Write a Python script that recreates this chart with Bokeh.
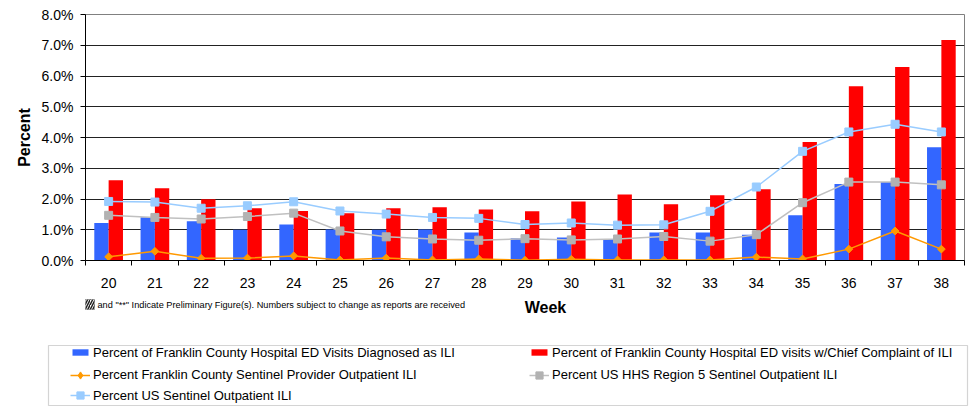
import math
from bokeh.plotting import figure
from bokeh.layouts import column
from bokeh.models import (ColumnDataSource, FixedTicker, PrintfTickFormatter, Legend, LegendItem,
                          Label, BoxAnnotation, Range1d)
from bokeh.transform import dodge
from bokeh.embed import file_html
from bokeh.resources import INLINE

weeks = [20, 21, 22, 23, 24, 25, 26, 27, 28, 29, 30, 31, 32, 33, 34, 35, 36, 37, 38]
ed_diagnosed = [1.22, 1.41, 1.28, 1.00, 1.17, 1.01, 1.00, 1.01, 0.91, 0.72, 0.75, 0.70, 0.91, 0.91, 0.84, 1.47, 2.49, 2.55, 3.68]
ed_complaint = [2.61, 2.35, 1.99, 1.70, 1.61, 1.54, 1.70, 1.73, 1.66, 1.60, 1.92, 2.15, 1.83, 2.12, 2.32, 3.85, 5.67, 6.29, 7.17]
fc_sentinel = [0.12, 0.30, 0.07, 0.08, 0.15, 0.02, 0.08, 0.02, 0.05, 0.01, 0.04, 0.02, 0.02, 0.02, 0.11, 0.05, 0.37, 0.96, 0.37]
hhs_region5 = [1.47, 1.40, 1.35, 1.43, 1.54, 0.96, 0.77, 0.70, 0.66, 0.71, 0.67, 0.70, 0.78, 0.63, 0.84, 1.88, 2.55, 2.55, 2.46]
us_sentinel = [1.92, 1.90, 1.70, 1.78, 1.91, 1.61, 1.51, 1.40, 1.37, 1.17, 1.22, 1.15, 1.16, 1.60, 2.39, 3.55, 4.18, 4.43, 4.18]
y_ticks = [0, 1, 2, 3, 4, 5, 6, 7, 8]

labels = [
    "Percent of Franklin County Hospital ED Visits Diagnosed as ILI",
    "Percent of Franklin County Hospital ED visits w/Chief Complaint of ILI",
    "Percent Franklin County Sentinel Provider Outpatient ILI",
    "Percent US HHS Region 5 Sentinel Outpatient ILI",
    "Percent US Sentinel Outpatient ILI",
]
x_title = "Week"
y_title = "Percent"
footnote = 'and "**" Indicate Preliminary Figure(s).  Numbers subject to change as reports are received'

BLUE, RED, ORANGE, GRAY_L, GRAY_M, LBLUE = "#3366FF", "#FF0000", "#FF9900", "#C0C0C0", "#B2B2B2", "#99CCFF"
FONT = "Liberation Sans"

src = ColumnDataSource(dict(week=weeks, a=ed_diagnosed, b=ed_complaint, c=fc_sentinel,
                            d=hhs_region5, e=us_sentinel))

def draw_series(fig, visible=True, legend_style=False):
    bw = 0.31
    ra = fig.vbar(x=dodge("week", -bw / 2, range=fig.x_range), top="a", width=bw, source=src,
                  fill_color=BLUE, line_color=None, visible=visible)
    rb = fig.vbar(x=dodge("week", bw / 2, range=fig.x_range), top="b", width=bw, source=src,
                  fill_color=RED, line_color=None, visible=visible)
    rcl = fig.line("week", "c", source=src, line_color=ORANGE, line_width=1.5, visible=visible)
    if legend_style:
        rcs = fig.scatter("week", "c", source=src, marker="diamond", size=10,
                          fill_color=ORANGE, line_color=ORANGE, visible=visible)
    else:
        rcs = fig.scatter("week", "c", source=src, marker="square", size=5.5, angle=math.pi / 4,
                          fill_color=ORANGE, line_color=ORANGE, visible=visible)
    rdl = fig.line("week", "d", source=src, line_color=GRAY_L, line_width=1.5, visible=visible)
    rds = fig.scatter("week", "d", source=src, marker="square", size=8, fill_color=GRAY_M,
                      line_color=GRAY_M, visible=visible)
    rel = fig.line("week", "e", source=src, line_color=LBLUE, line_width=1.5, visible=visible)
    res = fig.scatter("week", "e", source=src, marker="square", size=8, fill_color=LBLUE,
                      line_color=LBLUE, visible=visible)
    return [[ra], [rb], [rcl, rcs], [rdl, rds], [rel, res]]

# ---------------- main chart ----------------
p = figure(width=976, height=290, output_backend="svg", toolbar_location=None,
           x_range=Range1d(weeks[0] - 0.5, weeks[-1] + 0.5), y_range=Range1d(0, 8),
           min_border_left=85, min_border_right=12, min_border_top=14, min_border_bottom=30)
p.frame_align = False
p.outline_line_color = "#808080"
draw_series(p)

boundaries = [w - 0.5 for w in weeks] + [weeks[-1] + 0.5]
p.xaxis.ticker = FixedTicker(ticks=weeks, minor_ticks=boundaries)
p.xaxis.major_tick_out = 0
p.xaxis.major_tick_in = 0
p.xaxis.minor_tick_out = 5
p.xaxis.minor_tick_in = 0
p.xaxis.minor_tick_line_color = "black"
p.xaxis.axis_line_color = "black"
p.xaxis.major_label_standoff = 12
p.xaxis.major_label_text_font = FONT
p.xaxis.major_label_text_font_size = "14px"
p.xaxis.major_label_text_color = "black"

p.yaxis.ticker = FixedTicker(ticks=y_ticks, minor_ticks=[])
p.yaxis.formatter = PrintfTickFormatter(format="%.1f%%")
p.yaxis.major_tick_out = 5
p.yaxis.major_tick_in = 0
p.yaxis.major_tick_line_color = "black"
p.yaxis.axis_line_color = "black"
p.yaxis.major_label_standoff = 7
p.yaxis.major_label_text_font = FONT
p.yaxis.major_label_text_font_size = "14px"
p.yaxis.major_label_text_color = "black"
p.yaxis.axis_label = y_title
p.yaxis.axis_label_text_font = FONT
p.yaxis.axis_label_text_font_size = "16px"
p.yaxis.axis_label_text_font_style = "bold"
p.yaxis.axis_label_text_color = "black"
p.yaxis.axis_label_standoff = 6

p.xgrid.grid_line_color = None
p.ygrid.ticker = FixedTicker(ticks=y_ticks[1:-1])
p.ygrid.grid_line_color = "#222222"

# ---------------- lower strip: title, footnote, legend ----------------
q = figure(width=976, height=117, output_backend="svg", toolbar_location=None,
           x_range=Range1d(0, 976), y_range=Range1d(117, 0),
           x_axis_type=None, y_axis_type=None,
           min_border_left=0, min_border_right=0, min_border_top=0, min_border_bottom=0)
q.frame_align = False
q.outline_line_color = None
q.grid.grid_line_color = None

q.add_layout(Label(x=545, y=17, text=x_title, text_font=FONT, text_font_size="16px",
                   text_font_style="bold", text_align="center", text_baseline="middle",
                   text_color="black"))
q.add_layout(BoxAnnotation(left=85, right=94, top=9, bottom=19,
                           fill_color="white", fill_alpha=1, line_color="#333333", line_width=1,
                           hatch_pattern="/", hatch_color="#222222", hatch_scale=5, hatch_weight=1.5))
q.add_layout(Label(x=97, y=14, text=footnote, text_font=FONT, text_font_size="9.2px",
                   text_align="left", text_baseline="middle", text_color="black"))
q.add_layout(BoxAnnotation(left=48, right=967, top=55, bottom=115,
                           fill_color="white", fill_alpha=1, line_color="#707070", line_width=1.2))

rs = draw_series(q, visible=False, legend_style=True)

def one_item(label, renderers, x, y, gh):
    return Legend(items=[LegendItem(label=label, renderers=renderers)], location=(x, y),
                  glyph_width=20, glyph_height=gh, label_height=gh, label_standoff=3,
                  spacing=0, padding=0, margin=0,
                  label_text_font=FONT, label_text_font_size="13px", label_text_color="black",
                  inactive_fill_alpha=0,
                  border_line_alpha=0, background_fill_alpha=0)

q.add_layout(one_item(labels[0], rs[0], 70, 47.5, 8), "center")
q.add_layout(one_item(labels[1], rs[1], 529, 47.5, 8), "center")
q.add_layout(one_item(labels[2], rs[2], 70, 23.5, 18), "center")
q.add_layout(one_item(labels[3], rs[3], 529, 23.5, 18), "center")
q.add_layout(one_item(labels[4], rs[4], 70, 3, 18), "center")

layout = column(p, q, spacing=0)
open("out.html", "w").write(file_html(layout, INLINE))
